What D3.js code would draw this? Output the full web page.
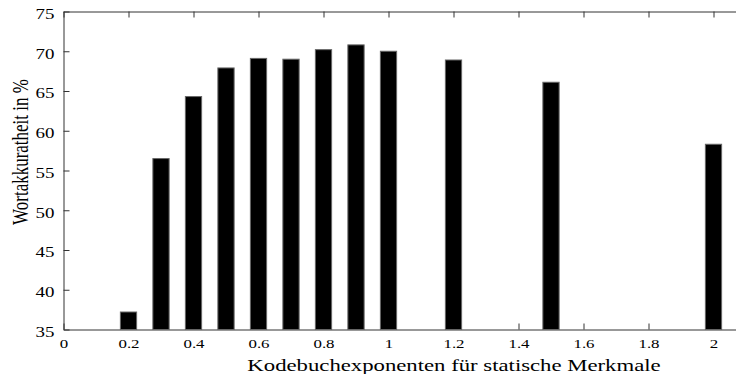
<!DOCTYPE html>
<html lang="de">
<head>
<meta charset="UTF-8" />
<title>Wortakkuratheit</title>
<script src="https://d3js.org/d3.v7.min.js"></script>
<style>
  html, body { margin: 0; padding: 0; background: #fff; }
  svg { display: block; }
</style>
</head>
<body>
<svg id="chart"></svg>
<script>
// data
const exponents = [0.2, 0.3, 0.4, 0.5, 0.6, 0.7, 0.8, 0.9, 1.0, 1.2, 1.5, 2.0];
const accuracy  = [37.2, 56.5, 64.3, 67.9, 69.1, 69.0, 70.2, 70.8, 70.0, 68.9, 66.1, 58.3];
const xTicks = [0, 0.2, 0.4, 0.6, 0.8, 1, 1.2, 1.4, 1.6, 1.8, 2];
const yTicks = [35, 40, 45, 50, 55, 60, 65, 70, 75];
const xLabel = "Kodebuchexponenten für statische Merkmale";
const yLabel = "Wortakkuratheit in %";

const W = 736, H = 374;
const plotLeft = 63.5, plotTop = 11.5, plotBottom = 329.5;
const serif = "'Liberation Serif', 'Times New Roman', Times, 'DejaVu Serif', serif";

const svg = d3.select("#chart").attr("width", W).attr("height", H);

const x = d3.scaleLinear().domain([0, 2.1]).range([plotLeft, plotLeft + 2.1 * 325]);
const y = d3.scaleLinear().domain([35, 75]).range([plotBottom, plotTop]);

const fmt = d => String(+d.toFixed(1));

// left axis, ticks pointing inward
const gy = svg.append("g")
  .attr("transform", "translate(" + plotLeft + ",0)")
  .call(d3.axisLeft(y).tickValues(yTicks).tickSize(-6).tickSizeOuter(0).tickFormat(fmt));
gy.attr("font-family", null);
gy.selectAll("text")
  .attr("x", null).attr("dy", null)
  .attr("text-anchor", "end")
  .attr("fill", "#000")
  .style("font-family", serif)
  .style("font-size", "14.8px")
  .attr("transform", "translate(-9,6.8) scale(1.28,1)");

// bottom axis
const gx = svg.append("g")
  .attr("transform", "translate(0," + plotBottom + ")")
  .call(d3.axisBottom(x).tickValues(xTicks).tickSize(-6).tickSizeOuter(0).tickFormat(fmt));
gx.attr("font-family", null);
gx.selectAll("text")
  .attr("y", null).attr("dy", null)
  .attr("text-anchor", "middle")
  .attr("fill", "#000")
  .style("font-family", serif)
  .style("font-size", "13.5px")
  .attr("transform", "translate(0,18.5) scale(1.25,1)");

// top border with ticks
svg.append("g")
  .attr("transform", "translate(0," + plotTop + ")")
  .call(d3.axisTop(x).tickValues(xTicks).tickSize(-6).tickSizeOuter(0).tickFormat(""));

svg.selectAll(".domain, .tick line").attr("stroke", "#333").attr("stroke-width", 1);

// bars
const barW = x(0.05) - x(0);
svg.append("g").selectAll("rect")
  .data(exponents.map((e, i) => ({ e, v: accuracy[i] })))
  .join("rect")
  .attr("x", d => x(d.e) - barW / 2)
  .attr("y", d => y(d.v))
  .attr("width", barW)
  .attr("height", d => y(35) - y(d.v))
  .attr("fill", "#000")
  .attr("stroke", "#666")
  .attr("stroke-width", 1);

// axis titles
svg.append("text")
  .attr("text-anchor", "middle")
  .attr("fill", "#000")
  .style("font-family", serif)
  .style("font-size", "16.6px")
  .attr("transform", "translate(454,371) scale(1.37,1)")
  .text(xLabel);

svg.append("text")
  .attr("text-anchor", "middle")
  .attr("fill", "#000")
  .style("font-family", serif)
  .style("font-size", "17px")
  .attr("transform", "translate(28,152) scale(1.3,1) rotate(-90)")
  .text(yLabel);
</script>
</body>
</html>
